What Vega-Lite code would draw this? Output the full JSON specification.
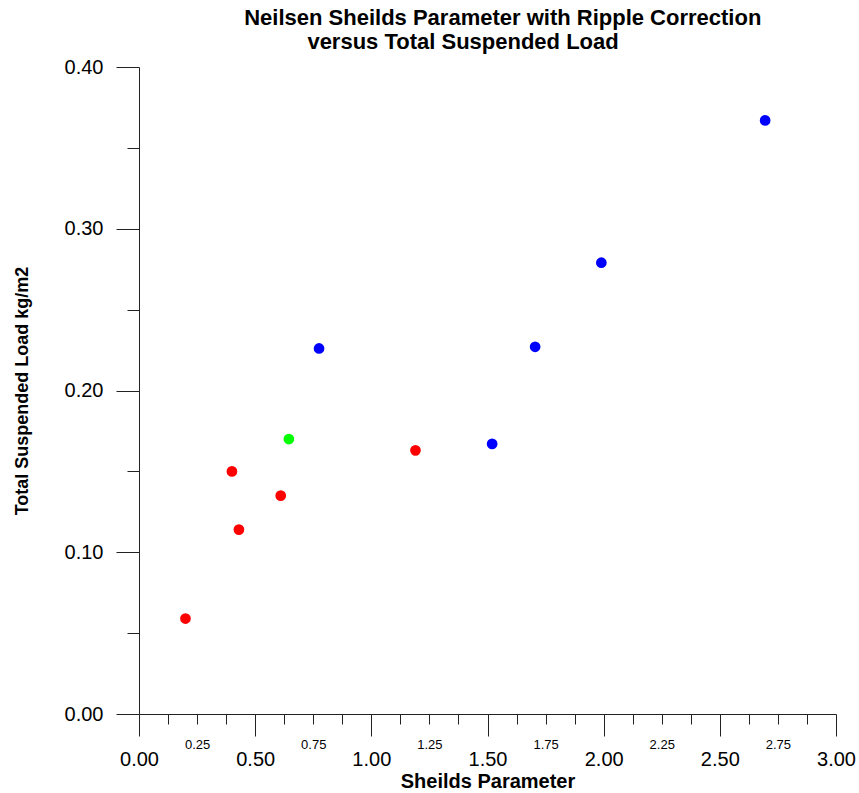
{
  "$schema": "https://vega.github.io/schema/vega-lite/v6.json",
  "width": 697,
  "height": 647,
  "autosize": "none",
  "padding": {"left": 139, "top": 67, "right": 23, "bottom": 79},
  "background": "white",
  "config": {"view": {"stroke": null}, "font": "Liberation Sans"},
  "title": {
    "text": ["\u200b\u00a0\u00a0\u00a0\u00a0\u00a0Neilsen Sheilds Parameter with Ripple Correction", "versus Total Suspended Load\u00a0\u00a0\u00a0\u00a0\u00a0\u00a0\u00a0\u00a0\u200b"],
    "font": "Liberation Sans",
    "fontSize": 22,
    "fontWeight": "bold",
    "color": "black",
    "anchor": "middle",
    "lineHeight": 24,
    "offset": 3
  },
  "data": {
    "values": [
      {"shields": 0.20, "load": 0.059, "series": "Red"},
      {"shields": 0.40, "load": 0.150, "series": "Red"},
      {"shields": 0.43, "load": 0.114, "series": "Red"},
      {"shields": 0.61, "load": 0.135, "series": "Red"},
      {"shields": 1.19, "load": 0.163, "series": "Red"},
      {"shields": 0.645, "load": 0.170, "series": "Green"},
      {"shields": 0.775, "load": 0.226, "series": "Blue"},
      {"shields": 1.52, "load": 0.167, "series": "Blue"},
      {"shields": 1.705, "load": 0.227, "series": "Blue"},
      {"shields": 1.99, "load": 0.279, "series": "Blue"},
      {"shields": 2.695, "load": 0.367, "series": "Blue"}
    ]
  },
  "mark": {"type": "point", "filled": true, "opacity": 1, "size": 115, "shape": "circle"},
  "encoding": {
    "x": {
      "field": "shields",
      "type": "quantitative",
      "scale": {"domain": [0, 3], "nice": false, "zero": false},
      "axis": {
        "values": [0, 0.125, 0.25, 0.375, 0.5, 0.625, 0.75, 0.875, 1, 1.125, 1.25, 1.375, 1.5, 1.625, 1.75, 1.875, 2, 2.125, 2.25, 2.375, 2.5, 2.625, 2.75, 2.875, 3],
        "labelExpr": "abs(datum.value*4 - round(datum.value*4)) < 0.001 ? format(datum.value, '.2f') : ''",
        "grid": false,
        "domainColor": "#222",
        "tickColor": "#222",
        "labelColor": "black",
        "labelFont": "Liberation Sans",
        "labelFlush": false,
        "labelOverlap": false,
        "tickSize": {"condition": {"test": "abs(datum.value*2 - round(datum.value*2)) < 0.001", "value": 22}, "value": 10},
        "labelFontSize": {"condition": {"test": "abs(datum.value*2 - round(datum.value*2)) < 0.001", "value": 20}, "value": 13},
        "labelPadding": {"condition": {"test": "abs(datum.value*2 - round(datum.value*2)) < 0.001", "value": 13}, "value": 14},
        "title": "Sheilds Parameter",
        "titleFont": "Liberation Sans",
        "titleFontSize": 20,
        "titleFontWeight": "bold",
        "titleColor": "black",
        "titlePadding": 2
      }
    },
    "y": {
      "field": "load",
      "type": "quantitative",
      "scale": {"domain": [0, 0.4], "nice": false, "zero": true},
      "axis": {
        "values": [0, 0.05, 0.1, 0.15, 0.2, 0.25, 0.3, 0.35, 0.4],
        "labelExpr": "abs(datum.value*10 - round(datum.value*10)) < 0.001 ? format(datum.value, '.2f') : ''",
        "grid": false,
        "domainColor": "#222",
        "tickColor": "#222",
        "labelColor": "black",
        "labelFont": "Liberation Sans",
        "labelFontSize": 20,
        "labelFlush": false,
        "labelOverlap": false,
        "tickSize": {"condition": {"test": "abs(datum.value*10 - round(datum.value*10)) < 0.001", "value": 23}, "value": 12},
        "labelPadding": 13,
        "title": "Total Suspended Load kg/m2",
        "titleFont": "Liberation Sans",
        "titleFontSize": 18,
        "titleFontWeight": "bold",
        "titleColor": "black",
        "titlePadding": 33
      }
    },
    "color": {
      "field": "series",
      "type": "nominal",
      "scale": {"domain": ["Red", "Green", "Blue"], "range": ["#ff0000", "#00ff00", "#0000ff"]},
      "legend": null
    }
  }
}
